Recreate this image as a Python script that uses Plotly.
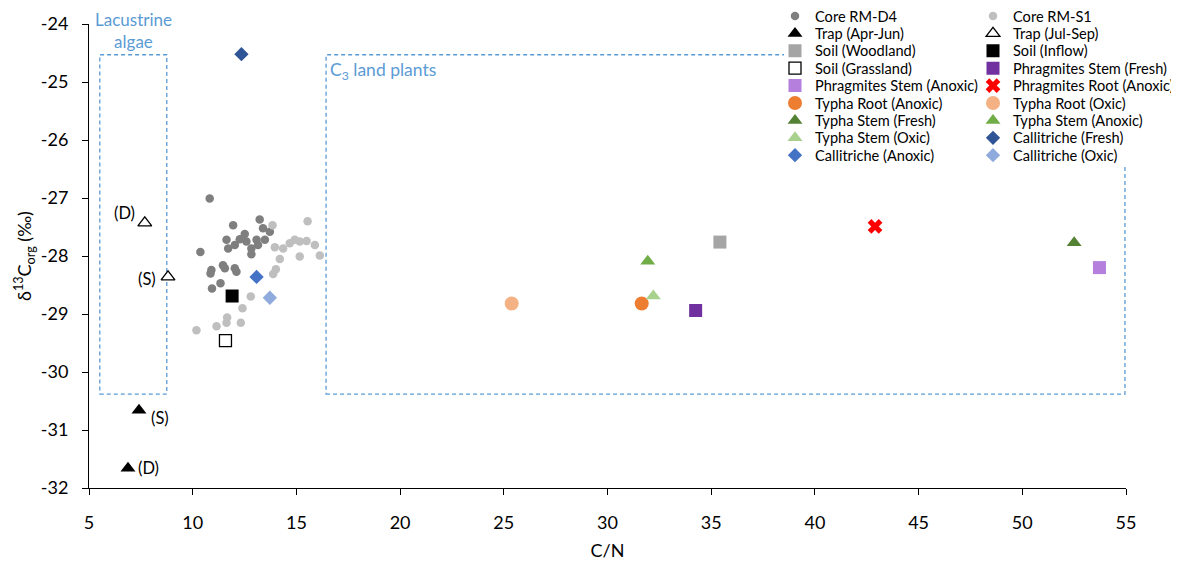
import plotly.graph_objects as go

# ---------------- data ----------------
core_d4_cn = [10.82, 11.95, 13.23, 10.37, 11.63, 11.71, 12.03, 12.51, 12.59, 12.83, 12.83, 13.08, 13.15,
              13.48, 13.39, 13.72, 12.27, 10.90, 10.86, 11.46, 11.55, 12.03, 12.11, 11.34, 10.93]
core_d4_d13c = [-27.01, -27.47, -27.37, -27.93, -27.72, -27.87, -27.81, -27.62, -27.75, -27.87, -27.97, -27.72, -27.81,
                -27.72, -27.52, -27.58, -27.71, -28.24, -28.30, -28.16, -28.21, -28.21, -28.27, -28.47, -28.56]

core_s1_cn = [13.85, 15.54, 13.96, 14.36, 14.68, 14.92, 15.16, 15.49, 15.89, 16.13, 15.16, 14.20, 14.01,
              13.88, 12.80, 12.40, 11.66, 11.63, 11.15, 12.32, 10.18]
core_s1_d13c = [-27.47, -27.40, -27.85, -27.87, -27.78, -27.72, -27.75, -27.74, -27.81, -27.99, -28.01, -28.05, -28.23,
                -28.31, -28.70, -28.90, -29.06, -29.15, -29.21, -29.15, -29.28]

trap_aprjun_cn = [7.41, 6.88]
trap_aprjun_d13c = [-30.66, -31.66]
trap_aprjun_labels = ["(S)", "(D)"]

trap_julsep_cn = [7.69, 8.81]
trap_julsep_d13c = [-27.43, -28.36]
trap_julsep_labels = ["(D)", "(S)"]

soil_woodland_cn = [35.42]
soil_woodland_d13c = [-27.76]
soil_inflow_cn = [11.90]
soil_inflow_d13c = [-28.69]
soil_grassland_cn = [11.58]
soil_grassland_d13c = [-29.46]

phrag_stem_fresh_cn = [34.25]
phrag_stem_fresh_d13c = [-28.94]
phrag_stem_anoxic_cn = [53.72]
phrag_stem_anoxic_d13c = [-28.20]
phrag_root_anoxic_cn = [42.90]
phrag_root_anoxic_d13c = [-27.49]

typha_root_anoxic_cn = [31.65]
typha_root_anoxic_d13c = [-28.82]
typha_root_oxic_cn = [25.38]
typha_root_oxic_d13c = [-28.82]
typha_stem_fresh_cn = [52.50]
typha_stem_fresh_d13c = [-27.77]
typha_stem_anoxic_cn = [31.94]
typha_stem_anoxic_d13c = [-28.09]
typha_stem_oxic_cn = [32.21]
typha_stem_oxic_d13c = [-28.69]

call_fresh_cn = [12.35]
call_fresh_d13c = [-24.52]
call_anoxic_cn = [13.08]
call_anoxic_d13c = [-28.36]
call_oxic_cn = [13.72]
call_oxic_d13c = [-28.72]

x_tickvals = [5, 10, 15, 20, 25, 30, 35, 40, 45, 50, 55]
y_tickvals = [-32, -31, -30, -29, -28, -27, -26, -25, -24]
y_ticktext = ["-32", "-31", "-30", "-29", "-28", "-27", "-26", "-25", "-24"]

# source zones (data coordinates)
lacustrine_box = dict(x0=5.52, x1=8.75, y0=-30.38, y1=-24.53)
c3_box = dict(x0=16.43, x1=54.95, y0=-30.38, y1=-24.53)

FONT = "Lato"
BOXC = "#5b9bd5"

series = [
    ("Core RM-D4", core_d4_cn, core_d4_d13c, dict(symbol="circle", size=8.5, color="#7f7f7f")),
    ("Core RM-S1", core_s1_cn, core_s1_d13c, dict(symbol="circle", size=8.5, color="#bfbfbf")),
    ("Trap (Apr-Jun)", trap_aprjun_cn, trap_aprjun_d13c, dict(symbol="triangle-up", size=13, color="black")),
    ("Trap (Jul-Sep)", trap_julsep_cn, trap_julsep_d13c,
     dict(symbol="triangle-up", size=12, color="white", line=dict(color="black", width=1.3))),
    ("Soil (Woodland)", soil_woodland_cn, soil_woodland_d13c, dict(symbol="square", size=13, color="#a5a5a5")),
    ("Soil (Inflow)", soil_inflow_cn, soil_inflow_d13c, dict(symbol="square", size=13, color="black")),
    ("Soil (Grassland)", soil_grassland_cn, soil_grassland_d13c,
     dict(symbol="square", size=12, color="white", line=dict(color="black", width=1.3))),
    ("Phragmites Stem (Fresh)", phrag_stem_fresh_cn, phrag_stem_fresh_d13c, dict(symbol="square", size=13, color="#7030a0")),
    ("Phragmites Stem (Anoxic)", phrag_stem_anoxic_cn, phrag_stem_anoxic_d13c, dict(symbol="square", size=13, color="#b47fdd")),
    ("Phragmites Root (Anoxic)", phrag_root_anoxic_cn, phrag_root_anoxic_d13c, dict(symbol="x", size=13, color="#ff0000")),
    ("Typha Root (Anoxic)", typha_root_anoxic_cn, typha_root_anoxic_d13c, dict(symbol="circle", size=14, color="#ed7d31")),
    ("Typha Root (Oxic)", typha_root_oxic_cn, typha_root_oxic_d13c, dict(symbol="circle", size=14, color="#f4b183")),
    ("Typha Stem (Fresh)", typha_stem_fresh_cn, typha_stem_fresh_d13c, dict(symbol="triangle-up", size=13, color="#548235")),
    ("Typha Stem (Anoxic)", typha_stem_anoxic_cn, typha_stem_anoxic_d13c, dict(symbol="triangle-up", size=13, color="#70ad47")),
    ("Typha Stem (Oxic)", typha_stem_oxic_cn, typha_stem_oxic_d13c, dict(symbol="triangle-up", size=13, color="#a9d18e")),
    ("Callitriche (Fresh)", call_fresh_cn, call_fresh_d13c, dict(symbol="diamond", size=11, color="#2f5597")),
    ("Callitriche (Anoxic)", call_anoxic_cn, call_anoxic_d13c, dict(symbol="diamond", size=11, color="#4472c4")),
    ("Callitriche (Oxic)", call_oxic_cn, call_oxic_d13c, dict(symbol="diamond", size=11, color="#8faadc")),
]

# page has an 8px body margin -> figure sized/placed to compensate
OFF = 8
W, H = 1179, 559
ML, MR, MT, MB = 81, 61, 16, 79
plot_w = W - ML - MR
plot_h = H - MT - MB


def px_to_paper_x(p):
    return (p - OFF - ML) / plot_w


def px_to_paper_y(p):
    return (OFF + H - MB - p) / plot_h


fig = go.Figure()
for i, (name, xs, ys, mk) in enumerate(series):
    row = i // 2
    lg = "legend" if row == 0 else f"legend{row + 1}"
    fig.add_trace(go.Scatter(x=xs, y=ys, mode="markers", name=name, marker=mk,
                             legend=lg, cliponaxis=False))

# legends: 9 rows, two columns
legend_left_px = 775
row0_px = 16.0
row_step = 17.4
for row in range(9):
    key = "legend" if row == 0 else f"legend{row + 1}"
    fig.layout[key] = dict(
        orientation="h", xanchor="left", yanchor="middle",
        x=px_to_paper_x(legend_left_px),
        y=px_to_paper_y(row0_px + row_step * row),
        entrywidth=153, entrywidthmode="pixels",
        font=dict(family=FONT, size=14.6, color="black"),
        bgcolor="rgba(0,0,0,0)", borderwidth=0, itemclick=False,
    )

# dashed zone boxes
for b in (lacustrine_box, c3_box):
    fig.add_shape(type="rect", xref="x", yref="y", **b,
                  line=dict(color=BOXC, width=1.3, dash="4px,3px"), fillcolor="rgba(0,0,0,0)", layer="below")
# legend background area (hides the box outline behind the legend)
fig.add_shape(type="rect", xref="paper", yref="paper",
              x0=px_to_paper_x(784), x1=px_to_paper_x(1187),
              y0=px_to_paper_y(164), y1=px_to_paper_y(0),
              line=dict(width=0), fillcolor="white", layer="above")

annotations = []
annotations.append(dict(x=(lacustrine_box["x0"] + lacustrine_box["x1"]) / 2, y=lacustrine_box["y1"], xref="x", yref="y",
                        text="Lacustrine<br>algae", showarrow=False, yanchor="bottom", yshift=1,
                        font=dict(family=FONT, size=17, color=BOXC)))
annotations.append(dict(x=c3_box["x0"], y=c3_box["y1"], xref="x", yref="y",
                        text="C<sub>3</sub> land plants", showarrow=False, xanchor="left", yanchor="top",
                        xshift=2, yshift=-2, font=dict(family=FONT, size=17.5, color=BOXC)))
# site labels next to trap points
shifts_aprjun = [(21, -8), (21, 0)]
for xv, yv, t, (dx, dy) in zip(trap_aprjun_cn, trap_aprjun_d13c, trap_aprjun_labels, shifts_aprjun):
    annotations.append(dict(x=xv, y=yv, xref="x", yref="y", text=t, showarrow=False,
                            xshift=dx, yshift=dy, font=dict(family=FONT, size=16.5, color="black")))
shifts_julsep = [(-20, 10), (-21, -2)]
for xv, yv, t, (dx, dy) in zip(trap_julsep_cn, trap_julsep_d13c, trap_julsep_labels, shifts_julsep):
    annotations.append(dict(x=xv, y=yv, xref="x", yref="y", text=t, showarrow=False,
                            xshift=dx, yshift=dy, font=dict(family=FONT, size=16.5, color="black")))

fig.update_layout(
    width=W, height=H,
    margin=dict(l=ML, r=MR, t=MT, b=MB, autoexpand=False),
    paper_bgcolor="white", plot_bgcolor="white",
    font=dict(family=FONT, color="black"),
    annotations=annotations,
    xaxis=dict(range=[5, 55], tickvals=x_tickvals, showgrid=False, zeroline=False,
               showline=True, linecolor="black", linewidth=1, ticks="outside", ticklen=6, tickcolor="black",
               tickfont=dict(family=FONT, size=18, color="black"), ticklabelstandoff=12,
               title=dict(text="C/N", font=dict(family=FONT, size=18, color="black"), standoff=12)),
    yaxis=dict(range=[-32, -24], tickvals=y_tickvals, ticktext=y_ticktext, showgrid=False, zeroline=False,
               showline=True, linecolor="black", linewidth=1, ticks="outside", ticklen=6, tickcolor="black",
               tickfont=dict(family=FONT, size=18, color="black"), ticklabelstandoff=10,
               title=dict(text="δ<sup>13</sup>C<sub>org</sub> (‰)", font=dict(family=FONT, size=18, color="black"),
                          standoff=4)),
)

fig.write_html("out.html")
